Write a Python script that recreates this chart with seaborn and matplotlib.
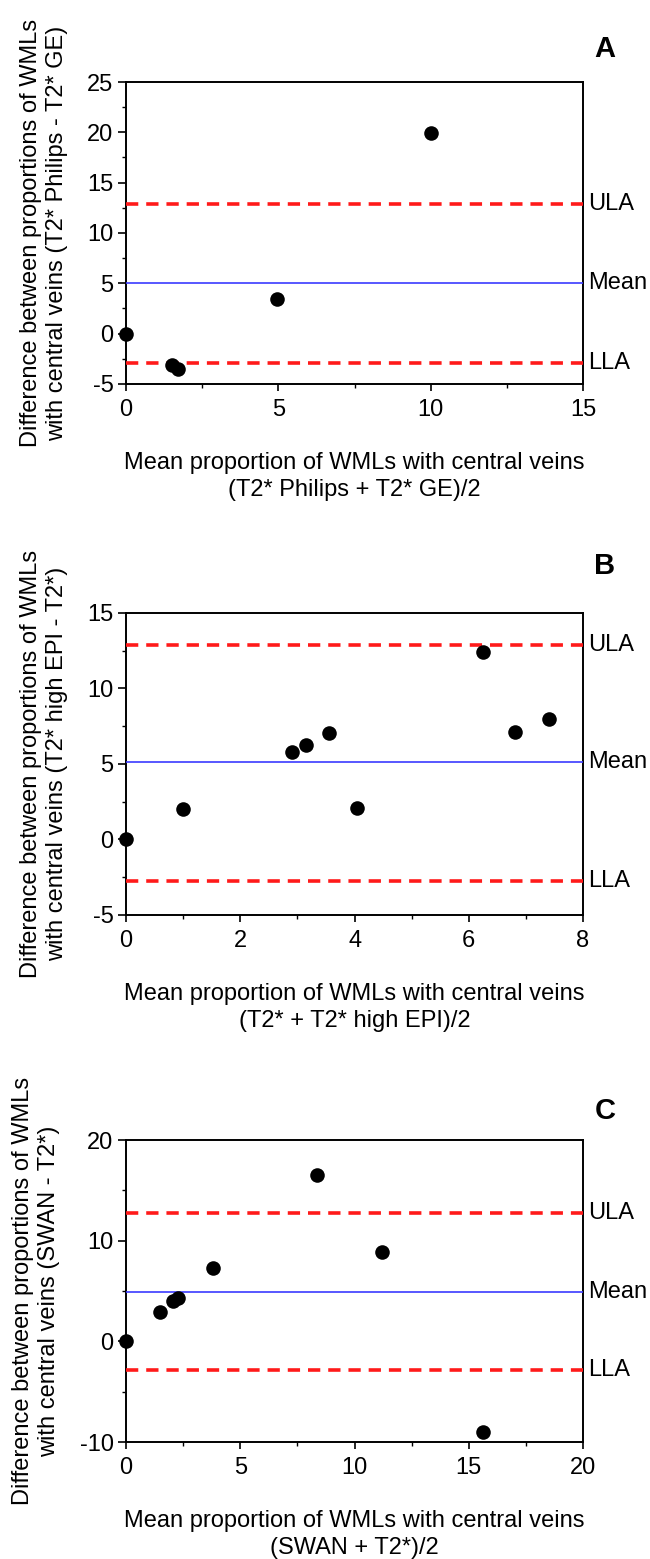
import numpy as np
import pandas as pd
import matplotlib
matplotlib.use("Agg")
import matplotlib.pyplot as plt
from matplotlib.ticker import MultipleLocator
import seaborn as sns

# panel A: T2* Philips vs T2* GE
a_mean = [0.0, 1.5, 1.72, 4.95, 10.0]
a_diff = [0.0, -3.1, -3.55, 3.4, 19.95]
a_limits = [12.9, 5.0, -2.9]  # ULA, Mean, LLA

# panel B: T2* vs T2* high EPI
b_mean = [0.0, 1.0, 2.9, 3.15, 3.55, 4.05, 6.25, 6.8, 7.4]
b_diff = [0.0, 2.0, 5.8, 6.25, 7.05, 2.1, 12.45, 7.15, 8.0]
b_limits = [12.9, 5.1, -2.75]

# panel C: SWAN vs T2*
c_mean = [0.0, 1.5, 2.05, 2.25, 3.8, 8.35, 11.2, 15.6]
c_diff = [0.0, 2.9, 4.0, 4.3, 7.3, 16.5, 8.85, -8.95]
c_limits = [12.8, 4.95, -2.85]

limit_names = ["ULA", "Mean", "LLA"]

panels = [
    dict(letter="A", x=a_mean, y=a_diff, lim=a_limits, let_y=1.063,
         xlim=(0, 15), ylim=(-5, 25), xmaj=5, xmin=2.5, ymaj=5, ymin=2.5,
         ylabel="Difference between proportions of WMLs\nwith central veins (T2* Philips - T2* GE)",
         xlabel="Mean proportion of WMLs with central veins\n(T2* Philips + T2* GE)/2"),
    dict(letter="B", x=b_mean, y=b_diff, lim=b_limits, let_y=1.11,
         xlim=(0, 8), ylim=(-5, 15), xmaj=2, xmin=1, ymaj=5, ymin=2.5,
         ylabel="Difference between proportions of WMLs\nwith central veins (T2* high EPI - T2*)",
         xlabel="Mean proportion of WMLs with central veins\n(T2* + T2* high EPI)/2"),
    dict(letter="C", x=c_mean, y=c_diff, lim=c_limits, let_y=1.05,
         xlim=(0, 20), ylim=(-10, 20), xmaj=5, xmin=2.5, ymaj=10, ymin=5,
         ylabel="Difference between proportions of WMLs\nwith central veins (SWAN - T2*)",
         xlabel="Mean proportion of WMLs with central veins\n(SWAN + T2*)/2"),
]

sns.set_theme(style="ticks")
plt.rcParams['font.family'] = ['Liberation Sans', 'DejaVu Sans']
plt.rcParams['axes.unicode_minus'] = False

fig = plt.figure(figsize=(6.5, 15.59), dpi=100)
bottoms = [0.7537, 0.4131, 0.0750]

for p, b in zip(panels, bottoms):
    ax = fig.add_axes([0.194, b, 0.703, 0.1937])
    df = pd.DataFrame({"mean": p["x"], "diff": p["y"]})
    sns.scatterplot(data=df, x="mean", y="diff", ax=ax, color="black",
                    s=110, edgecolor="black", linewidth=0, zorder=5, clip_on=False)

    ula, mean, lla = p["lim"]
    ax.axhline(ula, color="#ff1a1a", lw=2.6, ls=(0, (3.4, 2.2)), zorder=3)
    ax.axhline(mean, color="#3b3bff", lw=1.2, zorder=3)
    ax.axhline(lla, color="#ff1a1a", lw=2.6, ls=(0, (3.4, 2.2)), zorder=3)
    for name, val in zip(limit_names, p["lim"]):
        ax.text(1.012, val, name, transform=ax.get_yaxis_transform(),
                ha="left", va="center", fontsize=17, color="black", clip_on=False)

    ax.set_xlim(*p["xlim"])
    ax.set_ylim(*p["ylim"])
    ax.xaxis.set_major_locator(MultipleLocator(p["xmaj"]))
    ax.xaxis.set_minor_locator(MultipleLocator(p["xmin"]))
    ax.yaxis.set_major_locator(MultipleLocator(p["ymaj"]))
    ax.yaxis.set_minor_locator(MultipleLocator(p["ymin"]))
    ax.tick_params(axis="both", which="major", labelsize=17, width=1.2,
                   color="black", labelcolor="black")
    ax.tick_params(axis="y", which="major", length=6, pad=3)
    ax.tick_params(axis="x", which="major", length=5, pad=6)
    ax.tick_params(axis="both", which="minor", length=3, width=1.0, color="black")

    for sp in ax.spines.values():
        sp.set_visible(True)
        sp.set_color("black")
        sp.set_linewidth(1.4)

    ax.set_xlabel(p["xlabel"], fontsize=17, labelpad=22, linespacing=1.3, color="black")
    ax.set_ylabel(p["ylabel"], fontsize=17, labelpad=14, linespacing=1.25, color="black")
    ax.text(1.025, p["let_y"], p["letter"], transform=ax.transAxes, fontsize=21,
            fontweight="bold", ha="left", va="bottom", color="black")

fig.savefig("out.png", dpi=100)
